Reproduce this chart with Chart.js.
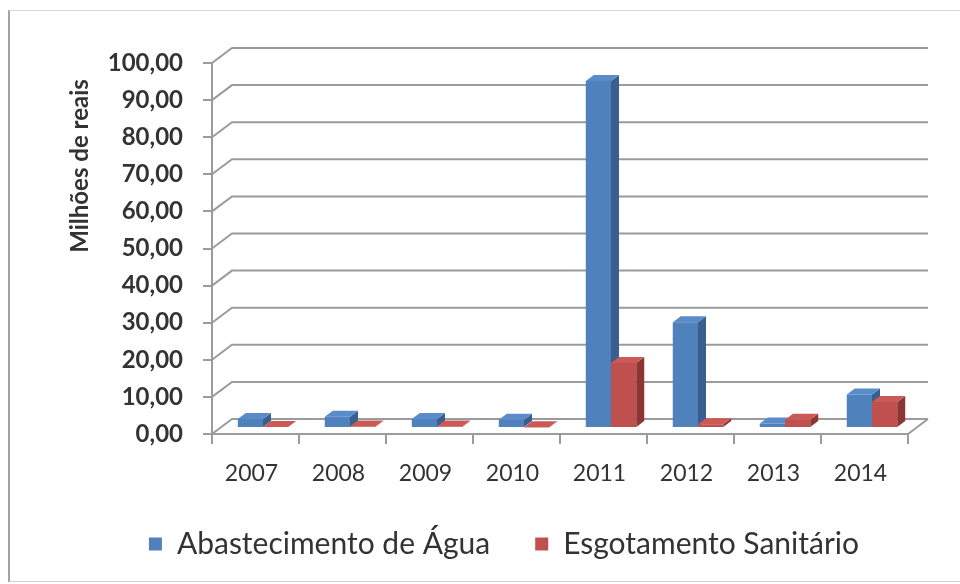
<!DOCTYPE html>
<html lang="pt-BR">
<head>
<meta charset="UTF-8">
<title>Investimentos em saneamento</title>
<script src="https://cdn.jsdelivr.net/npm/chart.js"></script>
<style>
    html, body { margin: 0; padding: 0; background: #fff; overflow: hidden; }
    .moldura {
        position: absolute; left: 8px; top: 10px; width: 980px; height: 570px;
        border-left: 2px solid #a3a3a3; border-top: 1px solid #d8d8d8; border-bottom: 1px solid #cfcfcf;
    }
    .grafico { position: absolute; left: 0; top: 0; width: 960px; height: 584px; }
</style>
</head>
<body>
<div class="moldura"></div>
<div class="grafico"><canvas id="graficoInvest"></canvas></div>
<script>
    // valores em milhões de reais
    var anos = ['2007', '2008', '2009', '2010', '2011', '2012', '2013', '2014'];
    var abastecimento = [2.4, 3.0, 2.4, 2.2, 93.5, 28.5, 1.2, 9.0];
    var esgotamento = [0.3, 0.4, 0.4, 0.2, 17.5, 1.0, 2.2, 7.0];
    var nomesSeries = ['Abastecimento de Água', 'Esgotamento Sanitário'];
    var eixoY = { min: 0, max: 100, passo: 10 };

    // profundidade das paredes e das barras
    var PAREDE_DX = 20, PAREDE_DY = -15;
    var BARRA_DX = 7.5, BARRA_DY = -6;
    var FUNDO_DX = 8, FUNDO_DY = -6;
    var COR_GRADE = '#9b9b9b';
    var FONTE = 'Lato, "Open Sans", sans-serif';

    var efeito3d = {
        id: 'efeito3d',
        beforeDatasetsDraw: function (chart) {
            var ctx = chart.ctx;
            var area = chart.chartArea;
            var escalaY = chart.scales.y;
            var y0 = escalaY.getPixelForValue(0);

            ctx.save();
            ctx.strokeStyle = COR_GRADE;
            ctx.lineWidth = 2;
            // piso
            ctx.beginPath();
            ctx.moveTo(area.left, y0);
            ctx.lineTo(area.right, y0);
            ctx.lineTo(area.right + PAREDE_DX, y0 + PAREDE_DY);
            ctx.stroke();
            // linhas de grade na parede lateral e no fundo
            escalaY.ticks.forEach(function (t) {
                var py = escalaY.getPixelForValue(t.value);
                ctx.beginPath();
                ctx.moveTo(area.left, py);
                ctx.lineTo(area.left + PAREDE_DX, py + PAREDE_DY);
                ctx.lineTo(area.right + PAREDE_DX, py + PAREDE_DY);
                ctx.stroke();
            });
            ctx.restore();

            // faces laterais e topo das barras (a frente fica por conta do Chart.js)
            ctx.save();
            ctx.translate(BARRA_DX, BARRA_DY);
            chart.data.datasets.forEach(function (ds, i) {
                var meta = chart.getDatasetMeta(i);
                meta.data.forEach(function (barra) {
                    var p = barra.getProps(['x', 'y', 'base', 'width'], true);
                    var esq = p.x - p.width / 2, dir = p.x + p.width / 2;
                    ctx.fillStyle = ds.corLateral;
                    ctx.beginPath();
                    ctx.moveTo(dir, p.base);
                    ctx.lineTo(dir + FUNDO_DX, p.base + FUNDO_DY);
                    ctx.lineTo(dir + FUNDO_DX, p.y + FUNDO_DY);
                    ctx.lineTo(dir, p.y);
                    ctx.closePath();
                    ctx.fill();
                    ctx.fillStyle = ds.corTopo;
                    ctx.beginPath();
                    ctx.moveTo(esq, p.y);
                    ctx.lineTo(dir, p.y);
                    ctx.lineTo(dir + FUNDO_DX, p.y + FUNDO_DY);
                    ctx.lineTo(esq + FUNDO_DX, p.y + FUNDO_DY);
                    ctx.closePath();
                    ctx.fill();
                });
            });
        },
        afterDatasetsDraw: function (chart) {
            chart.ctx.restore();
        },
        afterDraw: function (chart) {
            var ctx = chart.ctx;
            ctx.save();
            ctx.translate(80, 166);
            ctx.rotate(-Math.PI / 2);
            ctx.font = 'bold 24px ' + FONTE;
            ctx.fillStyle = '#333';
            ctx.textAlign = 'center';
            ctx.textBaseline = 'middle';
            ctx.fillText('Milhões de reais', 0, 0);
            ctx.restore();
        }
    };

    new Chart(document.getElementById('graficoInvest'), {
        type: 'bar',
        data: {
            labels: anos,
            datasets: [{
                label: nomesSeries[0],
                data: abastecimento,
                backgroundColor: '#4f81bd',
                corLateral: '#385f8f',
                corTopo: '#5a8ccb',
                borderWidth: 0,
                categoryPercentage: 0.58,
                barPercentage: 1
            }, {
                label: nomesSeries[1],
                data: esgotamento,
                backgroundColor: '#c0504d',
                corLateral: '#8c3532',
                corTopo: '#cb5a56',
                borderWidth: 0,
                categoryPercentage: 0.58,
                barPercentage: 1
            }]
        },
        options: {
            responsive: true,
            maintainAspectRatio: false,
            animation: false,
            layout: { padding: { left: 100, right: 52, top: 63, bottom: 15 } },
            scales: {
                y: {
                    min: eixoY.min,
                    max: eixoY.max,
                    afterFit: function (escala) { escala.width = 112; },
                    ticks: {
                        stepSize: eixoY.passo,
                        padding: 20,
                        color: '#333',
                        font: { family: FONTE, size: 24, weight: 'bold' },
                        callback: function (v) { return v.toFixed(2).replace('.', ','); }
                    },
                    grid: { drawOnChartArea: false, tickLength: 9, color: COR_GRADE, lineWidth: 2 },
                    border: { display: true, color: COR_GRADE, width: 2 }
                },
                x: {
                    afterFit: function (escala) { escala.height = 50; },
                    ticks: {
                        padding: 16,
                        labelOffset: -4,
                        maxRotation: 0,
                        color: '#333',
                        font: { family: FONTE, size: 23 }
                    },
                    grid: { drawOnChartArea: false, tickLength: 10, color: COR_GRADE, lineWidth: 2 },
                    border: { display: true, color: COR_GRADE, width: 2 }
                }
            },
            plugins: {
                legend: {
                    position: 'bottom',
                    labels: {
                        boxWidth: 13,
                        boxHeight: 13,
                        padding: 45,
                        color: '#333',
                        font: { family: FONTE, size: 30 }
                    }
                },
                tooltip: { enabled: false }
            }
        },
        plugins: [efeito3d]
    });
</script>
</body>
</html>
